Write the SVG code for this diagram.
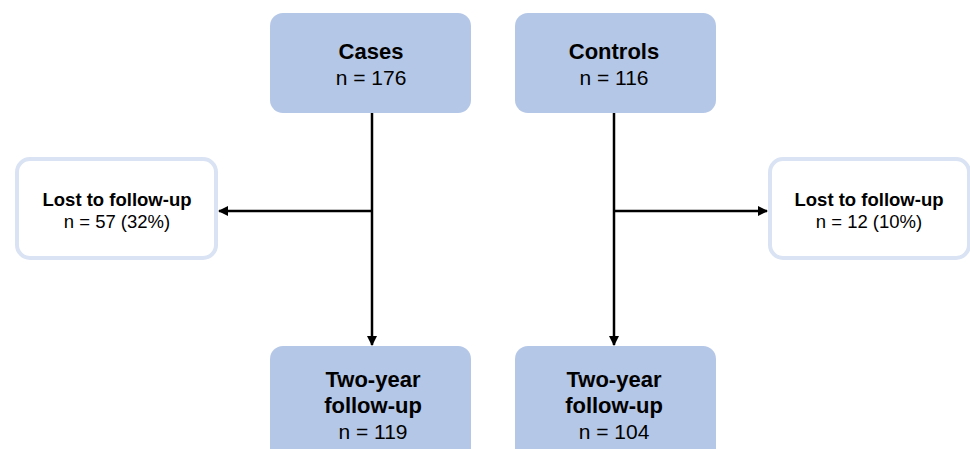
<svg xmlns="http://www.w3.org/2000/svg" width="970" height="449" viewBox="0 0 970 449">
<defs>
<marker id="ah" viewBox="0 0 10 10" refX="9" refY="5" markerWidth="10" markerHeight="10" markerUnits="userSpaceOnUse" orient="auto">
<path d="M0,0 L10,5 L0,10 z" fill="#000"/>
</marker>
<style>
.main{fill:#b4c7e7;}
.lost{fill:#fff;stroke:#dae3f3;stroke-width:4;}
text{font-family:"Liberation Sans",Arial,sans-serif;fill:#000;text-anchor:middle;}
.b20{font-size:22px;font-weight:bold;}
.r20{font-size:21px;}
.b16{font-size:18.5px;font-weight:bold;}
.r16{font-size:18.5px;}
.conn{stroke:#000;stroke-width:2.5;fill:none;}
</style>
</defs>
<rect width="970" height="449" fill="#fff"/>
<g id="connectors">
<path class="conn" d="M372,113 V345" marker-end="url(#ah)"/>
<path class="conn" d="M372,211 H219" marker-end="url(#ah)"/>
<path class="conn" d="M614,113 V345" marker-end="url(#ah)"/>
<path class="conn" d="M614,211 H767" marker-end="url(#ah)"/>
</g>
<g id="cases">
<rect class="main" x="270" y="13" width="201" height="100" rx="13"/>
<text class="b20" x="371" y="59">Cases</text>
<text class="r20" x="371" y="85">n = 176</text>
</g>
<g id="controls">
<rect class="main" x="515" y="13" width="201" height="100" rx="13"/>
<text class="b20" x="614" y="59">Controls</text>
<text class="r20" x="614" y="85">n = 116</text>
</g>
<g id="lost-cases">
<rect class="lost" x="17" y="159" width="199" height="99" rx="13"/>
<text class="b16" x="117" y="206">Lost to follow-up</text>
<text class="r16" x="117" y="228">n = 57 (32%)</text>
</g>
<g id="lost-controls">
<rect class="lost" x="770" y="159" width="199" height="99" rx="13"/>
<text class="b16" x="869" y="206">Lost to follow-up</text>
<text class="r16" x="869" y="228">n = 12 (10%)</text>
</g>
<g id="followup-cases">
<rect class="main" x="270" y="346" width="201" height="120" rx="13"/>
<text class="b20" x="373" y="387">Two-year</text>
<text class="b20" x="373" y="413">follow-up</text>
<text class="r20" x="373" y="439">n = 119</text>
</g>
<g id="followup-controls">
<rect class="main" x="515" y="346" width="201" height="120" rx="13"/>
<text class="b20" x="614" y="387">Two-year</text>
<text class="b20" x="614" y="413">follow-up</text>
<text class="r20" x="614" y="439">n = 104</text>
</g>
</svg>
